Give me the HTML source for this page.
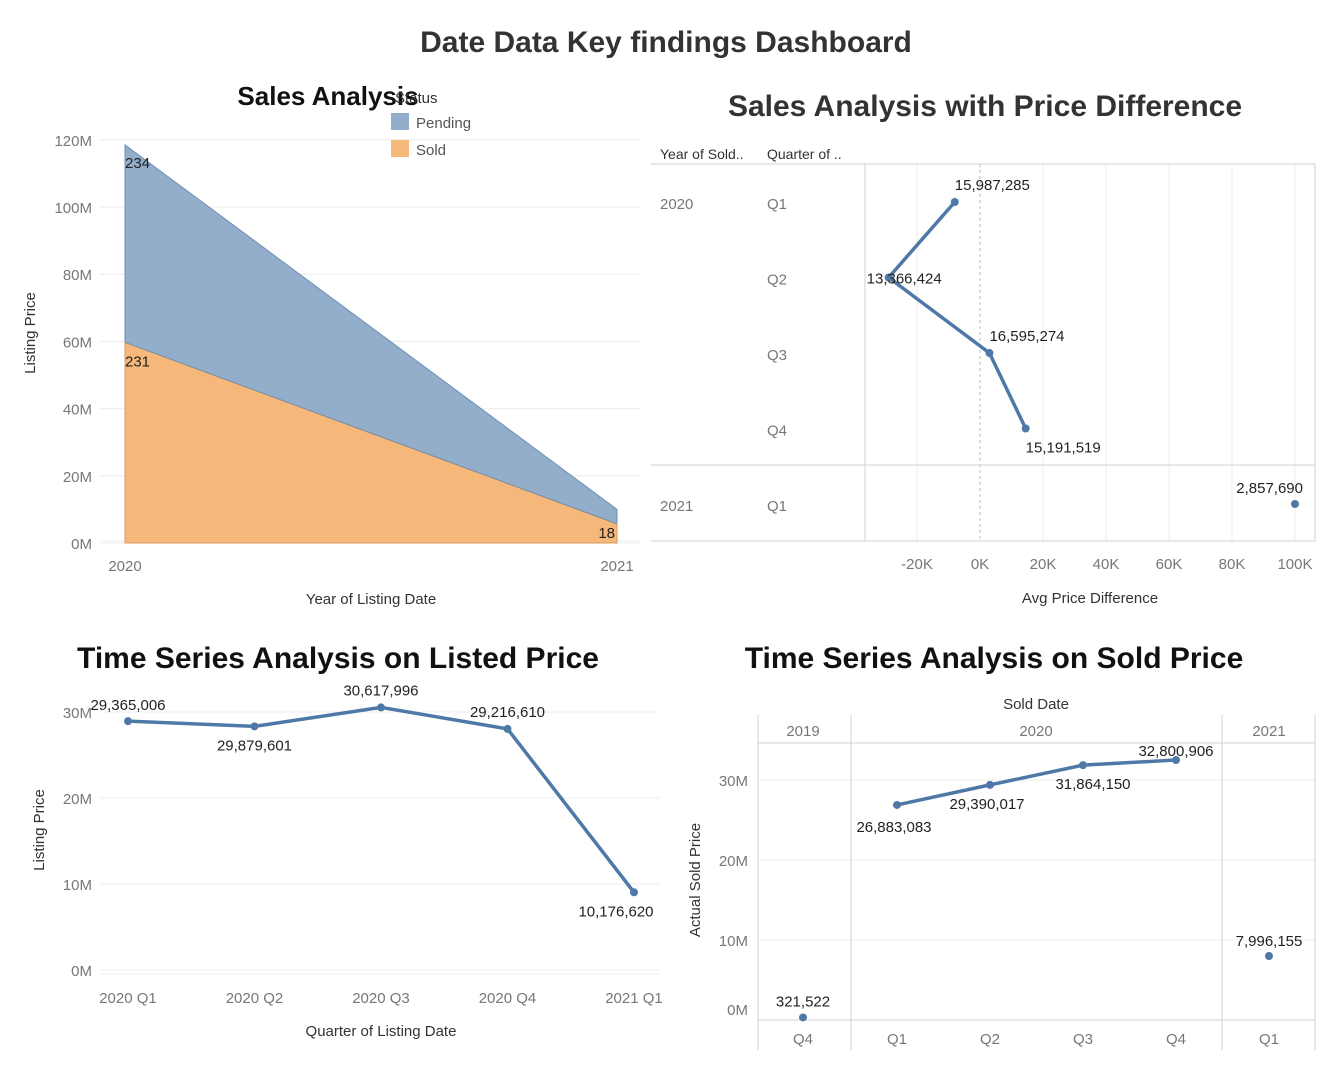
<!DOCTYPE html>
<html><head><meta charset="utf-8"><style>
body{margin:0;background:#fff;width:1332px;height:1065px;overflow:hidden;font-family:"Liberation Sans",sans-serif;}
svg text{font-family:"Liberation Sans",sans-serif;}
</style></head><body>
<svg id="s" width="1332" height="1065">
<text x="666" y="52" text-anchor="middle" font-size="30" font-weight="bold" fill="#333">Date Data Key findings Dashboard</text>
<g id="c1"></g>
<g id="c2"></g>
<g id="c3"></g>
<g id="c4"></g>
</svg>
<script>
// Chart 1 data
const c1Years=["2020","2021"];
const c1Pending=[58.8,4.3];
const c1Sold=[59.7,5.7];
const c1PendLabels=["234",""];
const c1SoldLabels=["231","18"];
const c1Ticks=[0,20,40,60,80,100,120];
// Chart 2 data
const c2Years=["2020","2020","2020","2020","2021"];
const c2Quarters=["Q1","Q2","Q3","Q4","Q1"];
const c2Values=[-8,-29,3,14.5,100];
const c2Labels=["15,987,285","13,366,424","16,595,274","15,191,519","2,857,690"];
const c2Ticks=[-20,0,20,40,60,80,100];
// Chart 3 data
const c3Cats=["2020 Q1","2020 Q2","2020 Q3","2020 Q4","2021 Q1"];
const c3Values=[29.4,28.8,31.0,28.5,9.5];
const c3Labels=["29,365,006","29,879,601","30,617,996","29,216,610","10,176,620"];
const c3Ticks=[0,10,20,30];
// Chart 4 data
const c4Quarters=["Q4","Q1","Q2","Q3","Q4","Q1"];
const c4Years=["2019","2020","2020","2020","2020","2021"];
const c4Values=[0.32,26.88,29.39,31.86,32.5,8.0];
const c4Labels=["321,522","26,883,083","29,390,017","31,864,150","32,800,906","7,996,155"];
const c4Ticks=[0,10,20,30];

const NS="http://www.w3.org/2000/svg";
function mk(p,tag,a,txt){const e=document.createElementNS(NS,tag);for(const k in a)e.setAttribute(k,a[k]);if(txt!==undefined)e.textContent=txt;p.appendChild(e);return e;}
const BLUE="#4e79a7",GRID="#ececec",AX="#d0d0d0",TK="#777";

// ---- Chart 1
(function(){
const g=document.getElementById('c1');
const y=v=>543-v*3.36, x=i=>125+i*492;
let t=mk(g,'text',{x:328,y:105,'text-anchor':'middle','font-size':26,'font-weight':'bold',fill:'#111'},'Sales Analysis');


c1Ticks.forEach(v=>{
 mk(g,'line',{x1:100,x2:640,y1:y(v),y2:y(v),stroke:GRID});
 let l=mk(g,'text',{x:92,y:y(v)+6,'text-anchor':'end','font-size':15,fill:TK},v+'M');
 
 
});
mk(g,'line',{x1:100,x2:640,y1:541,y2:541,stroke:'#eee'});
const sold="M"+x(0)+","+y(0)+" L"+x(0)+","+y(c1Sold[0])+" L"+x(1)+","+y(c1Sold[1])+" L"+x(1)+","+y(0)+"Z";
const pend="M"+x(0)+","+y(c1Sold[0])+" L"+x(0)+","+y(c1Sold[0]+c1Pending[0])+" L"+x(1)+","+y(c1Sold[1]+c1Pending[1])+" L"+x(1)+","+y(c1Sold[1])+"Z";
let a=mk(g,'path',{d:pend,fill:'#92aecb',stroke:'#6f8fb5'});


a=mk(g,'path',{d:sold,fill:'#f5b87a',stroke:'#d99a5e'});


mk(g,'line',{x1:x(0),x2:x(1),y1:y(c1Sold[0]),y2:y(c1Sold[1]),stroke:'#7890a8'});
t=mk(g,'text',{x:x(0),y:y(c1Sold[0]+c1Pending[0])+23,'font-size':15,fill:'#222'},c1PendLabels[0]);


t=mk(g,'text',{x:x(0),y:y(c1Sold[0])+24,'font-size':15,fill:'#222'},c1SoldLabels[0]);


t=mk(g,'text',{x:x(1)-2,y:y(c1Sold[1])+14,'text-anchor':'end','font-size':15,fill:'#222'},c1SoldLabels[1]);


c1Years.forEach((s,i)=>{let l=mk(g,'text',{x:x(i),y:571,'text-anchor':'middle','font-size':15,fill:TK},s);
 
 });
t=mk(g,'text',{x:371,y:604,'text-anchor':'middle','font-size':15,fill:'#333'},'Year of Listing Date');


t=mk(g,'text',{x:35,y:333,'text-anchor':'middle','font-size':15,fill:'#333',transform:'rotate(-90 35 333)'},'Listing Price');


t=mk(g,'text',{x:395,y:103,'font-size':15,fill:'#333'},'Status');


let r=mk(g,'rect',{x:391,y:113,width:18,height:17,fill:'#92aecb'});


t=mk(g,'text',{x:416,y:128,'font-size':15,fill:'#555'},'Pending');


r=mk(g,'rect',{x:391,y:140,width:18,height:17,fill:'#f5b87a'});


t=mk(g,'text',{x:416,y:155,'font-size':15,fill:'#555'},'Sold');


})();

// ---- Chart 2
(function(){
const g=document.getElementById('c2');
const x=v=>980+v*3.15, y=i=>202+i*75.5;
let t=mk(g,'text',{x:985,y:116,'text-anchor':'middle','font-size':30,'font-weight':'bold',fill:'#333'},'Sales Analysis with Price Difference');


t=mk(g,'text',{x:660,y:159,'font-size':14,fill:'#333'},'Year of Sold..');


t=mk(g,'text',{x:767,y:159,'font-size':14,fill:'#333'},'Quarter of ..');


c2Ticks.forEach(v=>{
 mk(g,'line',{x1:x(v),x2:x(v),y1:164,y2:541,stroke:v===0?'#bbb':GRID,'stroke-dasharray':v===0?'3,3':''});
 let l=mk(g,'text',{x:x(v),y:569,'text-anchor':'middle','font-size':15,fill:TK},v+'K');
 
 
});
mk(g,'line',{x1:651,x2:865,y1:164,y2:164,stroke:AX});
mk(g,'line',{x1:865,x2:1315,y1:164,y2:164,stroke:AX});
mk(g,'line',{x1:865,x2:865,y1:164,y2:541,stroke:AX});
mk(g,'line',{x1:1315,x2:1315,y1:164,y2:541,stroke:AX});
mk(g,'line',{x1:651,x2:1315,y1:465,y2:465,stroke:AX});
mk(g,'line',{x1:651,x2:1315,y1:541,y2:541,stroke:AX});
c2Quarters.forEach((q,i)=>{
 let l=mk(g,'text',{x:767,y:y(i)+7,'font-size':15,fill:TK},q);
 
 
 if(i===0||c2Years[i]!==c2Years[i-1]){l=mk(g,'text',{x:660,y:y(i)+7,'font-size':15,fill:TK},c2Years[i]);
 
 }
});
let pts=[];for(let i=0;i<4;i++)pts.push(x(c2Values[i])+','+y(i));
let p=mk(g,'polyline',{points:pts.join(' '),fill:'none',stroke:BLUE,'stroke-width':3.5});


const off=[[0,-12,'start'],[-22,6,'start'],[0,-12,'start'],[0,24,'start'],[8,-11,'end']];
c2Values.forEach((v,i)=>{
 let c=mk(g,'circle',{cx:x(v),cy:y(i),r:4,fill:BLUE});
 
 
 let l=mk(g,'text',{x:x(v)+off[i][0],y:y(i)+off[i][1],'text-anchor':off[i][2],'font-size':15,fill:'#222'},c2Labels[i]);
 
 
});
t=mk(g,'text',{x:1090,y:603,'text-anchor':'middle','font-size':15,fill:'#333'},'Avg Price Difference');


})();

// ---- Chart 3
(function(){
const g=document.getElementById('c3');
const y=v=>974-v*8.6, x=i=>128+i*126.5;
let t=mk(g,'text',{x:338,y:668,'text-anchor':'middle','font-size':30,'font-weight':'bold',fill:'#111'},'Time Series Analysis on Listed Price');


c3Ticks.forEach(v=>{
 mk(g,'line',{x1:100,x2:660,y1:y(v)-4,y2:y(v)-4,stroke:GRID});
 let l=mk(g,'text',{x:92,y:y(v)-4+6,'text-anchor':'end','font-size':15,fill:TK},v+'M');
 
 
});
mk(g,'line',{x1:100,x2:660,y1:974,y2:974,stroke:'#eee'});
let p=mk(g,'polyline',{points:c3Values.map((v,i)=>x(i)+','+y(v)).join(' '),fill:'none',stroke:BLUE,'stroke-width':3.5});


const off=[[0,-11],[0,24],[0,-12],[0,-12],[-18,24]];
c3Values.forEach((v,i)=>{
 let c=mk(g,'circle',{cx:x(i),cy:y(v),r:4,fill:BLUE});
 
 
 let l=mk(g,'text',{x:x(i)+off[i][0],y:y(v)+off[i][1],'text-anchor':'middle','font-size':15,fill:'#222'},c3Labels[i]);
 
 
 l=mk(g,'text',{x:x(i),y:1003,'text-anchor':'middle','font-size':15,fill:TK},c3Cats[i]);
 
 
});
t=mk(g,'text',{x:381,y:1036,'text-anchor':'middle','font-size':15,fill:'#333'},'Quarter of Listing Date');


t=mk(g,'text',{x:44,y:830,'text-anchor':'middle','font-size':15,fill:'#333',transform:'rotate(-90 44 830)'},'Listing Price');


})();

// ---- Chart 4
(function(){
const g=document.getElementById('c4');
const y=v=>1020-v*8, x=i=>803+(i===0?0:94+(i-1)*93)+(i===5?0:0);
const xs=i=>[803,897,989,1083,1176,1269][0]+(i===0?0:(i<5?94+(i-1)*93:466));
let t=mk(g,'text',{x:994,y:668,'text-anchor':'middle','font-size':30,'font-weight':'bold',fill:'#111'},'Time Series Analysis on Sold Price');


t=mk(g,'text',{x:1036,y:709,'text-anchor':'middle','font-size':15,fill:'#333'},'Sold Date');


c4Ticks.forEach(v=>{
 mk(g,'line',{x1:758,x2:1315,y1:y(v),y2:y(v),stroke:GRID});
 let l=mk(g,'text',{x:748,y:y(v)+(v===0?-5:6),'text-anchor':'end','font-size':15,fill:TK},v+'M');
 
 
});
[758,851,1222,1315].forEach(xx=>mk(g,'line',{x1:xx,x2:xx,y1:715,y2:1050,stroke:AX}));
mk(g,'line',{x1:758,x2:1315,y1:743,y2:743,stroke:AX});
mk(g,'line',{x1:758,x2:1315,y1:1020,y2:1020,stroke:AX});
const yrs=[["2019",803],["2020",1036],["2021",1269]];
yrs.forEach(a=>{let l=mk(g,'text',{x:a[1],y:736,'text-anchor':'middle','font-size':15,fill:TK},a[0]);
 
 });
let p=mk(g,'polyline',{points:[1,2,3,4].map(i=>xs(i)+','+y(c4Values[i])).join(' '),fill:'none',stroke:BLUE,'stroke-width':3.5});


const off=[[0,-11],[-3,27],[-3,24],[10,24],[0,-4]];
off.push([0,-10]);
c4Values.forEach((v,i)=>{
 let c=mk(g,'circle',{cx:xs(i),cy:y(v),r:4,fill:BLUE});
 
 
 let l=mk(g,'text',{x:xs(i)+off[i][0],y:y(v)+off[i][1],'text-anchor':'middle','font-size':15,fill:'#222'},c4Labels[i]);
 
 
 l=mk(g,'text',{x:xs(i),y:1044,'text-anchor':'middle','font-size':15,fill:TK},c4Quarters[i]);
 
 
});
t=mk(g,'text',{x:700,y:880,'text-anchor':'middle','font-size':15,fill:'#333',transform:'rotate(-90 700 880)'},'Actual Sold Price');


})();
</script>
</body></html>
